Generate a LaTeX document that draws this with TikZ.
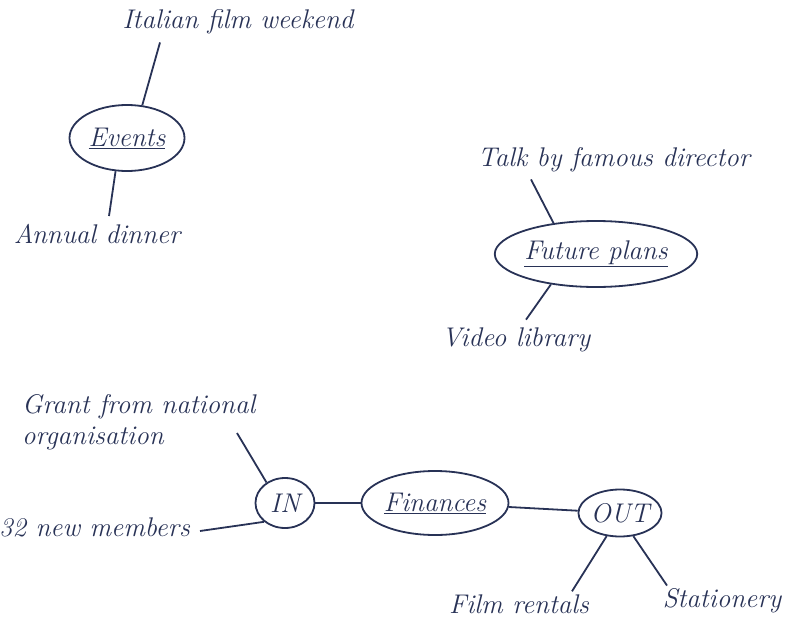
\documentclass[tikz,border=0pt]{standalone}
\usepackage{xcolor}
\usepackage{tikz}
\usetikzlibrary{shapes.geometric}
\definecolor{ink}{RGB}{40,50,86}
\newcommand{\handfont}{\fontsize{27}{31}\selectfont\itshape}
\tikzset{
topic/.style = {ellipse, draw = ink, line width = 1.8pt, text = ink, inner sep = 0pt, font = \handfont},
idea/.style = {text = ink, inner sep = 0pt, font = \handfont},
link/.style = {draw = ink, line width = 1.8pt},
}

\begin{document}
\begin{tikzpicture}[x = 1pt, y = -1pt]
    \useasboundingbox (0, 0) rectangle (795, 618);
    % events
    \node[topic, minimum width = 115pt, minimum height = 66pt] (events) at (127, 138) {\underline{Events}};
    \node[idea] (italian) at (238, 22) {Italian film weekend};
    \node[idea] (annual) at (97, 234) {Annual dinner};
    \draw[link] (events.65) -- ([shift = {(-78, 8)}]italian.south);
    \draw[link] (events.-109) -- ([shift = {(12, -8)}]annual.north);
    % future plans
    \node[topic, minimum width = 181pt, minimum height = 66pt] (future) at (596, 254) {\underline{Future plans}};
    \node[idea] (talk) at (614, 160) {Talk by famous director};
    \node[idea] (video) at (516, 340) {Video library};
    \draw[link] (future.144) -- ([shift = {(-83, 7)}]talk.south);
    \draw[link] (future.-146) -- ([shift = {(10, -8)}]video.north);
    % finances
    \node[topic, minimum width = 147pt, minimum height = 64pt] (finances) at (435, 503) {\underline{Finances}};
    \node[topic, minimum width = 59pt, minimum height = 50pt] (in) at (285, 503) {IN};
    \node[topic, minimum width = 73pt, minimum height = 47pt] (out) at (620, 513) {OUT};
    \node[idea, align = left, anchor = north west] (grant) at (22, 394) {Grant from national\\organisation};
    \node[idea, anchor = east] (members) at (190, 527) {32 new members};
    \node[idea] (rentals) at (519, 604) {Film rentals};
    \node[idea] (stationery) at (722, 601) {Stationery};
    \draw[link] (in) -- (finances);
    \draw[link] (finances) -- (out);
    \draw[link] (in.132) -- ([shift = {(215, 39)}]grant.north west);
    \draw[link] (in.-138) -- ([shift = {(10, 4)}]members.east);
    \draw[link] (out.-120) -- ([shift = {(53, -3)}]rentals.north);
    \draw[link] (out.-60) -- ([shift = {(-55, -3)}]stationery.north);
\end{tikzpicture}
\end{document}
